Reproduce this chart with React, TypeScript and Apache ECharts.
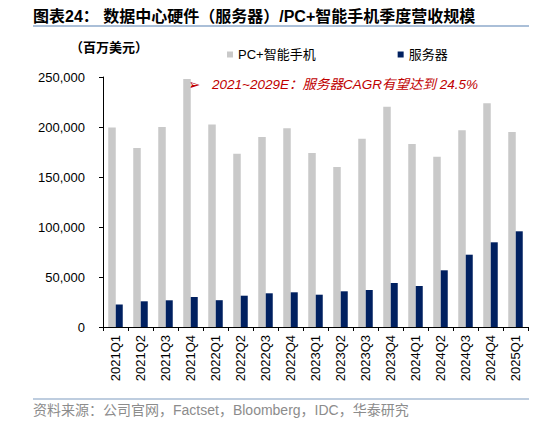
import React, { useEffect, useRef } from "react";
import * as echarts from "echarts";

const categories = [
  "2021Q1", "2021Q2", "2021Q3", "2021Q4",
  "2022Q1", "2022Q2", "2022Q3", "2022Q4",
  "2023Q1", "2023Q2", "2023Q3", "2023Q4",
  "2024Q1", "2024Q2", "2024Q3", "2024Q4",
  "2025Q1",
];
const pcPhone = [
  199500, 179000, 200000, 248000,
  202500, 173300, 190000, 198700,
  174000, 160000, 188300, 220300,
  183000, 170300, 196700, 223700,
  195000,
];
const server = [
  22500, 25700, 26700, 30000,
  26800, 31300, 33700, 34700,
  32300, 35700, 37000, 44000,
  41000, 56700, 72300, 84700,
  95700,
];
const yTicks = { min: 0, max: 250000, interval: 50000 };
const seriesNames = ["PC+智能手机", "服务器"];
const titleText = "图表24： 数据中心硬件（服务器）/PC+智能手机季度营收规模";
const unitText = "（百万美元）";
const noteText = "2021~2029E：服务器CAGR有望达到 24.5%";
const sourceText = "资料来源：公司官网，Factset，Bloomberg，IDC，华泰研究";

const CJK = '"Liberation Sans", Arial, "Noto Sans CJK SC", sans-serif';

export default function App() {
  const ref = useRef<HTMLDivElement>(null);
  useEffect(() => {
    if (!ref.current) return;
    const chart = echarts.init(ref.current, null, { renderer: "svg" });
    chart.setOption({
      animation: false,
      backgroundColor: "#ffffff",
      grid: { left: 103, right: 6, top: 77, bottom: 98, containLabel: false },
      legend: {
        left: 222,
        top: 43,
        itemWidth: 6,
        itemHeight: 6,
        itemGap: 82,
        icon: "rect",
        textStyle: { fontSize: 13, color: "#000", fontFamily: CJK },
        data: seriesNames,
      },
      xAxis: {
        type: "category",
        data: categories,
        axisLine: { lineStyle: { color: "#000", width: 1 } },
        axisTick: { show: true, length: 4, lineStyle: { color: "#000" } },
        axisLabel: {
          rotate: 90,
          margin: 8,
          fontSize: 13,
          color: "#000",
          fontFamily: '"Liberation Sans", Arial, sans-serif',
          interval: 0,
        },
      },
      yAxis: {
        type: "value",
        min: yTicks.min,
        max: yTicks.max,
        interval: yTicks.interval,
        axisLine: { show: true, lineStyle: { color: "#000", width: 1 } },
        axisTick: { show: true, length: 4, lineStyle: { color: "#000" } },
        splitLine: { show: false },
        axisLabel: {
          margin: 18,
          fontSize: 13,
          color: "#000",
          fontFamily: '"Liberation Sans", Arial, sans-serif',
          formatter: (v: number) => v.toLocaleString("en-US"),
        },
      },
      series: [
        {
          name: seriesNames[0],
          type: "bar",
          data: pcPhone,
          barWidth: 7.5,
          barGap: "0%",
          itemStyle: { color: "#c9c9c9" },
        },
        {
          name: seriesNames[1],
          type: "bar",
          data: server,
          barWidth: 7,
          barGap: "0%",
          itemStyle: { color: "#002060" },
        },
      ],
      graphic: [
        {
          type: "text",
          left: 33,
          top: 8,
          style: {
            text: titleText,
            fontSize: 16,
            fontWeight: "bold",
            fill: "#000",
            fontFamily: '"Liberation Sans", Arial, "Noto Sans CJK SC", sans-serif',
          },
        },
        {
          type: "line",
          shape: { x1: 33, y1: 26, x2: 529, y2: 26 },
          style: { stroke: "#8eaacb", lineWidth: 1.5 },
        },
        {
          type: "text",
          left: 70,
          top: 40,
          style: {
            text: unitText,
            fontSize: 13,
            fontWeight: "bold",
            fill: "#000",
            fontFamily: '"Noto Sans CJK SC", sans-serif',
          },
        },
        {
          type: "text",
          left: 187,
          top: 76,
          style: {
            text: "➢",
            fontSize: 16,
            fill: "#c00000",
            fontFamily: '"DejaVu Sans", sans-serif',
          },
        },
        {
          type: "text",
          left: 212,
          top: 78,
          style: {
            text: noteText,
            fontSize: 13.5,
            fontStyle: "italic",
            fill: "#c00000",
            fontFamily: CJK,
          },
        },
        {
          type: "line",
          shape: { x1: 33, y1: 399, x2: 529, y2: 399 },
          style: { stroke: "#a9bdd4", lineWidth: 1.5 },
        },
        {
          type: "text",
          left: 33,
          top: 403,
          style: {
            text: sourceText,
            fontSize: 14,
            fill: "#8c8c8c",
            fontFamily: CJK,
          },
        },
      ],
    });
    return () => chart.dispose();
  }, []);
  return (
    <div
      ref={ref}
      style={{ position: "fixed", left: 0, top: 0, width: 534, height: 425 }}
    />
  );
}
